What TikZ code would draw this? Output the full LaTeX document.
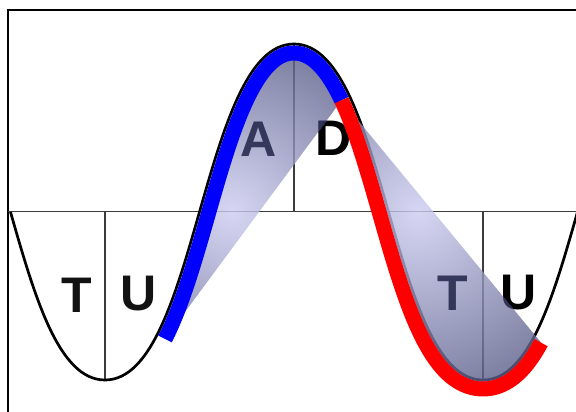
\documentclass[tikz,border=0pt]{standalone}
\usepackage{fontspec}
\setmainfont{Liberation Sans}
\definecolor{shlight}{RGB}{205,205,242}
\definecolor{shdark}{RGB}{40,44,90}
\definecolor{lettershade}{RGB}{30,32,70}
\definecolor{axisgray}{RGB}{60,60,60}
\definecolor{cblue}{RGB}{0,0,255}
\definecolor{cred}{RGB}{255,0,0}
\begin{document}
\begin{tikzpicture}[x=1pt,y=-1pt,
  declare function={
    bez(\t,\ua,\ub,\uc,\ud)=(1-\t)*(1-\t)*(1-\t)*\ua+3*(1-\t)*(1-\t)*\t*\ub+3*(1-\t)*\t*\t*\uc+\t*\t*\t*\ud;
    bezd(\t,\ua,\ub,\uc,\ud)=0.03*((1-\t)*(1-\t)*(\ub-\ua)+2*(1-\t)*\t*(\uc-\ub)+\t*\t*(\ud-\uc));
    nrma(\t)=veclen(bezd(\t,105,198,201,294),bezd(\t,380,380,44,44));
    oxa(\t)=bez(\t,105,198,201,294)-9*bezd(\t,380,380,44,44)/nrma(\t);
    oya(\t)=bez(\t,380,380,44,44)+9*bezd(\t,105,198,201,294)/nrma(\t);
    nrmb(\t)=veclen(bezd(\t,294,387,390,483),bezd(\t,44,44,380,380));
    oxb(\t)=bez(\t,294,387,390,483)-9*bezd(\t,44,44,380,380)/nrmb(\t);
    oyb(\t)=bez(\t,44,44,380,380)+9*bezd(\t,294,387,390,483)/nrmb(\t);
    nrmc(\t)=veclen(bezd(\t,483,529.5,553.5,577.5),bezd(\t,380,380,296,212));
    oxc(\t)=bez(\t,483,529.5,553.5,577.5)-9*bezd(\t,380,380,296,212)/nrmc(\t);
    oyc(\t)=bez(\t,380,380,296,212)+9*bezd(\t,483,529.5,553.5,577.5)/nrmc(\t);
  },
  thinline/.style={draw=axisgray,line width=1.3pt},
  wave/.style={draw=black,line width=2.7pt},
  colcurve/.style={line width=15pt,line cap=butt,line join=round},
  letter/.style={inner sep=0pt,font=\fontsize{50}{50}\selectfont\bfseries},
  shadeband/.style={opacity=0.8,inner color=shlight,outer color=shdark},
  overletter/.style={letter,text=lettershade,text opacity=0.75}]
\useasboundingbox (0,0) rectangle (576,412);
\fill[white] (0,0) rectangle (576,412);
% frame
\coordinate (fbl) at (7.5,420);
\coordinate (ftl) at (7.5,10.5);
\coordinate (ftr) at (590,10.5);
\draw[black,line width=2pt] (fbl) -- (ftl) -- (ftr);
% axis and verticals
\coordinate (axl) at (7.5,211.5);
\coordinate (axr) at (576,211.5);
\draw[thinline] (axl) -- (axr);
\coordinate (v1a) at (105,211.5); \coordinate (v1b) at (105,380);
\coordinate (v2a) at (294,211.5); \coordinate (v2b) at (294,44);
\coordinate (v3a) at (483,211.5); \coordinate (v3b) at (483,380);
\draw[thinline] (v1a) -- (v1b);
\draw[thinline] (v2a) -- (v2b);
\draw[thinline] (v3a) -- (v3b);
% black wave
\coordinate (w0) at (10.5,212);
\coordinate (w1) at (105,380);
\coordinate (w2) at (294,44);
\coordinate (w3) at (483,380);
\coordinate (w4) at (577.5,212);
\draw[wave] (w0) .. controls (34.5,296) and (58.5,380) .. (w1)
  .. controls (198,380) and (201,44) .. (w2)
  .. controls (387,44) and (390,380) .. (w3)
  .. controls (529.5,380) and (553.5,296) .. (w4);
% letters
\node[letter,text=black!93] (tl) at (77,295) {T};
\node[letter,text=black!93] (ul) at (139,294) {U};
\node[letter,text=black] (la) at (259,139) {A};
\node[letter,text=black] (ld) at (334,138) {D};
\node[letter,text=black] (tr) at (453,293) {T};
\node[letter,text=black] (ur) at (519,293) {U};
% shaded bands
\begin{scope}
  \clip plot[domain=0.23:1,samples=50,variable=\t] ({oxa(\t)},{oya(\t)})
     -- plot[domain=0:0.25,samples=15,variable=\t] ({oxb(\t)},{oyb(\t)}) -- cycle;
  \shade[shadeband] (232,212) circle (250);
  \node[overletter] (la2) at (la) {A};
  \node[overletter] (ld2) at (ld) {D};
\end{scope}
\begin{scope}
  \clip plot[domain=0.25:1,samples=50,variable=\t] ({oxb(\t)},{oyb(\t)})
     -- plot[domain=0:0.44,samples=20,variable=\t] ({oxc(\t)},{oyc(\t)}) -- cycle;
  \shade[shadeband] (418,212) circle (270);
  \node[overletter] (tr2) at (tr) {T};
  \node[overletter] (ur2) at (ur) {U};
\end{scope}
% coloured curves
\draw[colcurve,draw=cblue] plot[domain=0.23:1,samples=50,variable=\t] ({oxa(\t)},{oya(\t)})
   -- plot[domain=0:0.25,samples=15,variable=\t] ({oxb(\t)},{oyb(\t)});
\draw[colcurve,draw=cred] plot[domain=0.25:1,samples=50,variable=\t] ({oxb(\t)},{oyb(\t)})
   -- plot[domain=0:0.44,samples=20,variable=\t] ({oxc(\t)},{oyc(\t)});
\end{tikzpicture}
\end{document}
